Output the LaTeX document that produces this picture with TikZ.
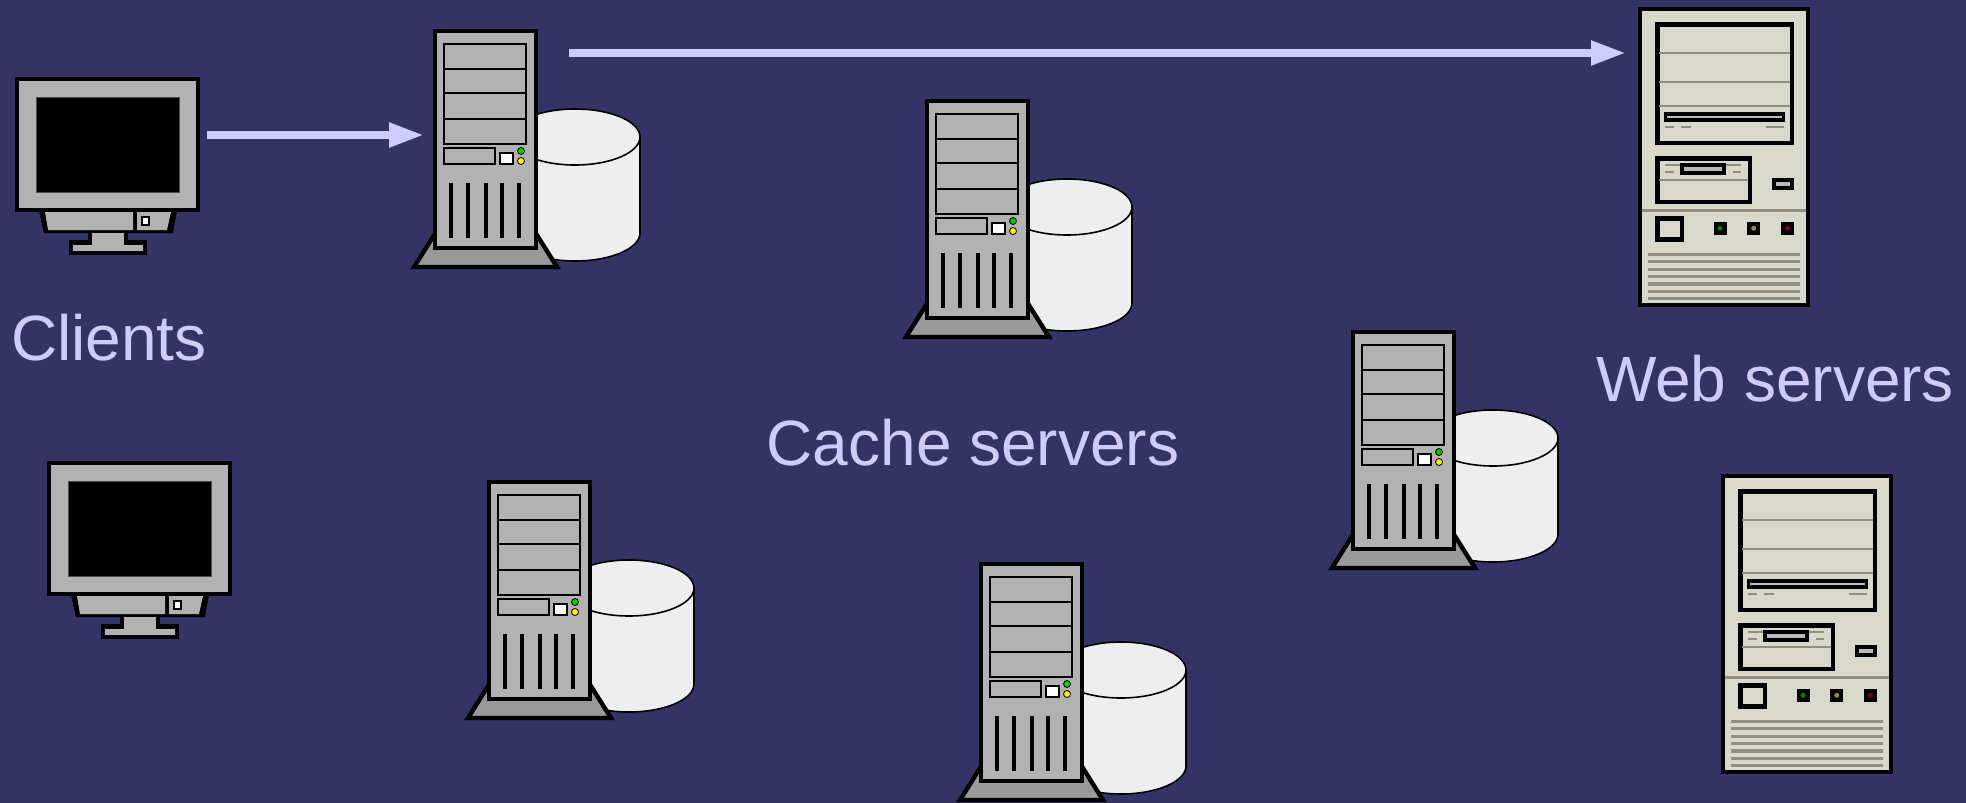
\documentclass[tikz,border=0pt]{standalone}
\usepackage{fontspec}
\setmainfont{Liberation Sans}
\usetikzlibrary{arrows.meta}

\definecolor{bgblue}{HTML}{333366}
\definecolor{flowblue}{HTML}{CCCCFF}
\definecolor{casegrey}{HTML}{B2B2B2}
\definecolor{basegrey}{HTML}{999999}
\definecolor{diskwhite}{HTML}{EEEEEE}
\definecolor{beige}{HTML}{D8D8CB}
\definecolor{beigeline}{HTML}{8E8E82}

\tikzset{
	flow/.style={draw=flowblue,line width=4pt,-{Triangle[length=17.5pt,width=11.5pt]}},
	label/.style={text=flowblue,font=\fontsize{32}{38}\selectfont,anchor=base,inner sep=0pt},
	heavy/.style={draw=black,line width=2.2pt},
	medium/.style={draw=black,line width=1.8pt},
	thinline/.style={draw=beigeline,line width=1.1pt},
	monitor/.pic={
		\filldraw[heavy,fill=casegrey] (2,2) rectangle (183,133);
		\filldraw[fill=black,draw=black!70,line width=0.4pt] (21,20) rectangle (164,115);
		% stand
		\fill[black] (24,134) -- (29,156) -- (158,156) -- (162,134) -- cycle;
		\fill[casegrey] (30,135) -- (33,153) -- (118,153) -- (118,135) -- cycle;
		\fill[casegrey] (122,135) -- (122,153) -- (152,153) -- (156,135) -- cycle;
		\filldraw[draw=black,fill=white,line width=1pt] (127,140) rectangle (134,148);
		\fill[black] (73,156) rectangle (113,165);
		\fill[black] (54,163) rectangle (132,178);
		\fill[casegrey] (58,168) rectangle (128,174);
		\fill[casegrey] (77,156) rectangle (109,169);
		\coordinate (-out) at (192,58);
	},
	cacheserver/.pic={
		% disk behind the tower
		\filldraw[fill=diskwhite,draw=black,line width=0.8pt] (142,204) ellipse (65 and 28);
		\fill[diskwhite] (77,108) rectangle (207,204);
		\draw[black,line width=0.8pt] (207,108) -- (207,204);
		\filldraw[fill=diskwhite,draw=black,line width=0.8pt] (142,108) ellipse (65 and 28);
		% foot
		\filldraw[heavy,fill=basegrey,line join=miter] (3,203) -- (-19,238) -- (124,238) -- (102,203) -- cycle;
		% tower
		\filldraw[heavy,fill=casegrey] (2,2) rectangle (103,219);
		\draw[black,line width=0.8pt] (11,15) rectangle (93,115);
		\foreach \y in {40,64,90} {\draw[black,line width=0.8pt] (11,\y) -- (93,\y);}
		\draw[black,line width=0.8pt] (11,119) rectangle (62,135);
		\filldraw[fill=white,draw=black,line width=0.8pt] (67,124) rectangle (80,135);
		\filldraw[fill=green!80!black,draw=black,line width=0.4pt] (88,122) circle (3.5);
		\filldraw[fill=yellow,draw=black,line width=0.4pt] (88,132) circle (3.5);
		\foreach \x in {18,35,53,69,86} {\draw[black,line width=2pt] (\x,154) -- (\x,209);}
		\coordinate (-in) at (-9,106);
		\coordinate (-out) at (136,24);
	},
	webserver/.pic={
		\filldraw[heavy,fill=beige] (2,2) rectangle (170,298);
		% upper bays
		\draw[heavy] (19.3,17.3) rectangle (153.7,135.7);
		\foreach \y in {45.7,75.3,98.7} {\draw[thinline] (21,\y) -- (152,\y);}
		\filldraw[medium,fill=beigeline!60] (27.3,106.7) rectangle (145.3,113);
		\draw[thinline] (26.7,120) -- (36,120);
		\draw[thinline] (43.3,120) -- (53.3,120);
		\draw[thinline] (128.3,120) -- (145.7,120);
		% lower bay
		\draw[heavy] (19.3,151.3) rectangle (111.7,194.7);
		\draw[thinline] (21,173.3) -- (110,173.3);
		\draw[thinline] (26.7,158.3) -- (103.3,158.3);
		\draw[thinline] (26.7,165) -- (36,165);
		\draw[thinline] (95,165) -- (103.3,165);
		\filldraw[medium,fill=beigeline!60] (44,157.7) rectangle (85.7,165.7);
		\filldraw[medium,fill=beigeline!60] (136,173) rectangle (153.7,180.7);
		\draw[thinline,line width=1.2pt] (4,203.3) -- (168,203.3);
		% switches
		\draw[heavy] (19.3,211.3) rectangle (43.7,232.3);
		\foreach \x/\c in {82/green!50!black,115.7/yellow!50!black,149.3/red!50!black} {
			\fill[black] (\x-6.5,214.8) rectangle (\x+6.5,227.8);
			\fill[\c] (\x,221.3) circle (2.5);
		}
		% vents
		\foreach \y in {247.7,254.7,262.3,269.3,277,284.3,291.7} {\draw[thinline,line width=1.6pt] (10,\y) -- (162.3,\y);}
		\coordinate (-in) at (-12,46);
	},
}

\begin{document}
\begin{tikzpicture}[x=0.5pt,y=-0.5pt]
	\fill[bgblue] (0,0) rectangle (1966,803);
	\useasboundingbox (0,0) rectangle (1966,803);

	\pic (client1) at (15,77) {monitor};
	\pic (client2) at (47,461) {monitor};

	\pic (cache1) at (433,29) {cacheserver};
	\pic (cache2) at (925,99) {cacheserver};
	\pic (cache3) at (1351,330) {cacheserver};
	\pic (cache4) at (487,480) {cacheserver};
	\pic (cache5) at (979,562) {cacheserver};

	\pic (web1) at (1638,7) {webserver};
	\pic (web2) at (1721,474) {webserver};

	\node[label] (clients) at (109,360) {Clients};
	\node[label] (caches) at (973,465) {Cache servers};
	\node[label] (webs) at (1775,401.5) {Web servers};

	\draw[flow] (client1-out) -- (cache1-in);
	\draw[flow] (cache1-out) -- (web1-in);
\end{tikzpicture}
\end{document}
